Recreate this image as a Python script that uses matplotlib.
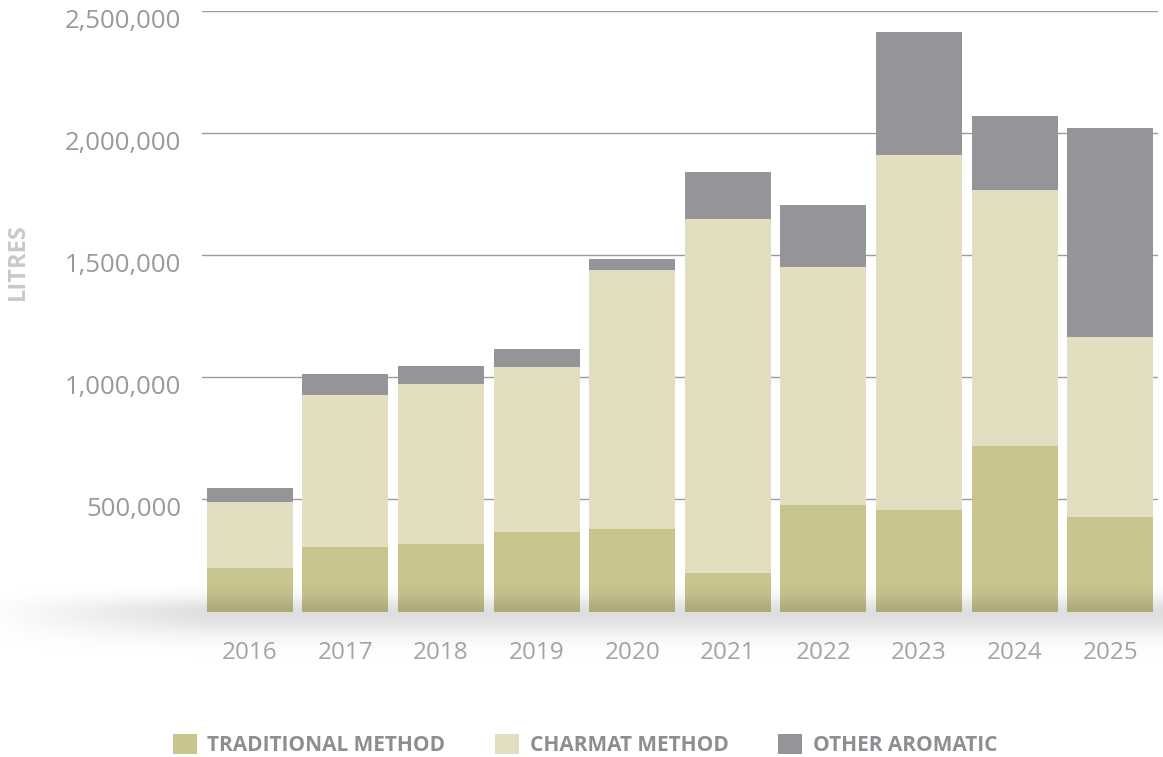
import numpy as np
import matplotlib
matplotlib.use("Agg")
import matplotlib.pyplot as plt
from matplotlib.patches import Patch
from matplotlib.transforms import ScaledTranslation

plt.rcParams['font.family'] = ['Open Sans', 'DejaVu Sans']

years = ['2016', '2017', '2018', '2019', '2020', '2021', '2022', '2023', '2024', '2025']
traditional = [218000, 305000, 317000, 366000, 378000, 198000, 477000, 456000, 718000, 427000]
charmat = [271000, 622000, 655000, 676000, 1062000, 1451000, 975000, 1455000, 1050000, 738000]
other = [57000, 86000, 74000, 74000, 45000, 192000, 254000, 504000, 303000, 857000]
series_names = ['TRADITIONAL METHOD', 'CHARMAT METHOD', 'OTHER AROMATIC']
colors = ['#c7c48d', '#e2dec0', '#959599']
y_ticks = [500000, 1000000, 1500000, 2000000, 2500000]

W, H = 1163, 757
fig = plt.figure(figsize=(W / 100, H / 100), dpi=100)
ax = fig.add_axes([202 / W, 1 - 612 / H, (1158 - 202) / W, (612 - 11.3) / H])

x = np.arange(len(years))
bottom = np.zeros(len(years))
for vals, col in zip([traditional, charmat, other], colors):
    ax.bar(x, vals, width=0.9, bottom=bottom, color=col, zorder=3)
    bottom += np.array(vals)

ax.set_xlim(-0.5, len(years) - 0.5)
ax.set_ylim(38000, 2500000)
ax.set_yticks(y_ticks)
ax.set_yticklabels([f'{v:,}' for v in y_ticks])
ax.set_xticks(x)
ax.set_xticklabels(years)
ax.yaxis.grid(True, color='#9b9b9b', linewidth=1, zorder=0)
ax.set_axisbelow(True)
for s in ax.spines.values():
    s.set_visible(False)
ax.tick_params(axis='y', length=0, pad=15, labelsize=18.5, labelcolor='#9a9a9e')
ax.tick_params(axis='x', length=0, pad=21, labelsize=17.5, labelcolor='#a6a6a6')
for lab in ax.get_yticklabels():
    lab.set_transform(lab.get_transform() + ScaledTranslation(0, -0.07, fig.dpi_scale_trans))

fig.text(18 / W, 1 - 262 / H, 'LITRES', rotation=90, ha='center', va='center',
         fontsize=17, fontweight='bold', color='#c9c9c9')

# soft shadow along the base of the bars
sh = fig.add_axes([0, 1 - 690 / H, 1, 130 / H], zorder=10)
rows = np.arange(560, 690) + 0.5
alpha = np.where(rows < 612, np.exp(-((rows - 612) / 15) ** 2), np.exp(-((rows - 612) / 24) ** 2)) * 0.13
cols = np.arange(W) + 0.5
hfade = np.clip(0.1 + cols / 230, 0.1, 1.0)
rgba = np.zeros((len(rows), W, 4))
rgba[..., 3] = alpha[:, None] * hfade[None, :]
sh.imshow(rgba, aspect='auto', extent=(0, 1, 0, 1), interpolation='bilinear')
sh.axis('off')

handles = [Patch(facecolor=c, edgecolor='none') for c in colors]
fig.legend(handles, series_names, loc='center', bbox_to_anchor=(0.503, 1 - 745 / H), ncol=3,
           frameon=False, handlelength=1.15, handleheight=1.15, handletextpad=0.5,
           columnspacing=2.4, prop={'weight': 'bold', 'size': 15},
           labelcolor='#8e8e92')

fig.savefig('out.png', dpi=100)
